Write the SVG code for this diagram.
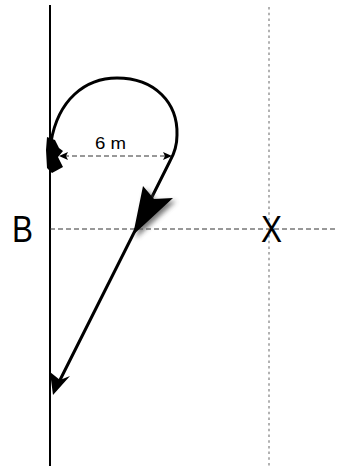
<svg xmlns="http://www.w3.org/2000/svg" width="338" height="466" viewBox="0 0 338 466">
<style>
.lbl{font-family:"Liberation Sans",Arial,sans-serif;fill:#000}
.path{fill:none;stroke:#000;stroke-width:3;stroke-linecap:round;stroke-linejoin:round}
.head{fill:#000;stroke:none}
.dash{fill:none;stroke:#333;stroke-width:1;stroke-dasharray:5 3}
.grid{fill:none;stroke:#999;stroke-width:1.5;stroke-dasharray:2.5 3.2}
</style>
<defs>
<filter id="blur" x="-50%" y="-50%" width="200%" height="200%"><feGaussianBlur stdDeviation="2.5"/></filter>
</defs>
<rect width="338" height="466" fill="#fff"/>
<g id="wall"><line x1="50" y1="5" x2="50" y2="466" stroke="#000" stroke-width="2"/></g>
<g id="axis-x"><line class="grid" x1="269" y1="7" x2="269" y2="466"/></g>
<g id="axis-h"><line class="dash" x1="50" y1="229" x2="338" y2="229"/></g>
<g id="label-B"><text class="lbl" x="12" y="242" font-size="37" textLength="21" lengthAdjust="spacingAndGlyphs">B</text></g>
<g id="label-X"><text class="lbl" x="261" y="242" font-size="37" textLength="21" lengthAdjust="spacingAndGlyphs">X</text></g>
<g id="dimension">
<line class="dash" x1="64" y1="156" x2="166" y2="156"/>
<polygon class="head" points="59,156 68,152 66,156 68,160"/>
<polygon class="head" points="172,156 163,152 165,156 163,160"/>
<text class="lbl" x="95" y="149" font-size="16" textLength="31" lengthAdjust="spacingAndGlyphs">6 m</text>
</g>
<g id="connectors">
<path class="path" d="M 51,142 C 58,100 85,78 117,78 C 155,78 178,103 177,135 C 177,147 174,154 170,161 L 60,380"/>
<polygon class="head" points="47,137 55,140 59,148 63,151 58,157 63,167 52,173 47,168 46,150"/>
<polygon points="136,238 146,189 157,202 176,201" fill="#555" filter="url(#blur)" opacity="0.8"/>
<polygon class="head" points="133,235 143,186 154,199 173,198"/>
<polygon class="head" points="53,395 50,372 60,380 70,376"/>
</g>
</svg>
